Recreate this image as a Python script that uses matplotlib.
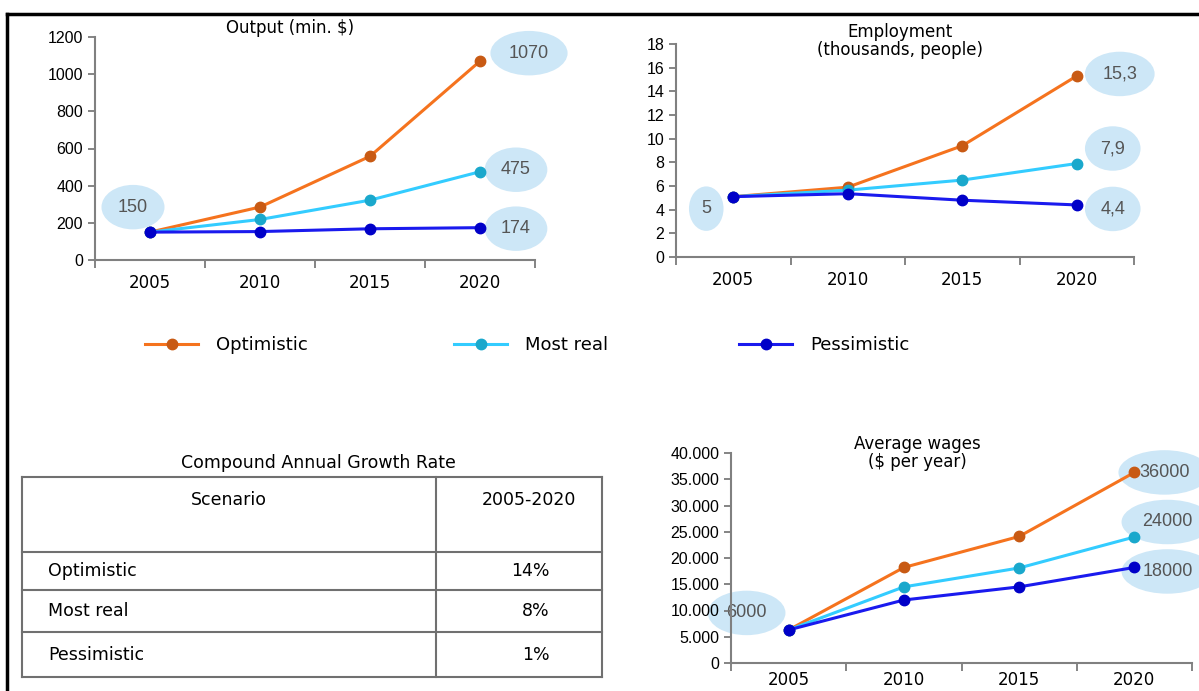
"""
Сценарії: випуск, зайнятість, середня зарплата + таблиця CAGR.
"""
import numpy as np
import matplotlib
matplotlib.use("Agg")
import matplotlib.pyplot as plt
from matplotlib.lines import Line2D
from matplotlib.ticker import FuncFormatter

W, H = 1199, 691

years = ["2005", "2010", "2015", "2020"]
scenarios = ["Optimistic", "Most real", "Pessimistic"]

output_opt = [150, 285, 558, 1070]
output_real = [150, 218, 322, 475]
output_pess = [150, 153, 168, 174]

empl_opt = [5.1, 5.9, 9.4, 15.3]
empl_real = [5.1, 5.65, 6.5, 7.9]
empl_pess = [5.1, 5.35, 4.8, 4.4]

wage_opt = [6300, 18200, 24100, 36300]
wage_real = [6300, 14500, 18100, 24000]
wage_pess = [6300, 12000, 14500, 18200]

cagr_values = ["14%", "8%", "1%"]

LINE_C = ["#f5731e", "#33ccff", "#1a1aee"]
MARK_C = ["#c85a14", "#1aa8cc", "#0000c8"]
BUBBLE = "#cde7f7"

TXT_FONT = ["DejaVu Sans"]
NUM_FONT = ["Liberation Sans"]


def px_box(x0, y0, x1, y1):
    return [x0 / W, 1 - y1 / H, (x1 - x0) / W, (y1 - y0) / H]


def style_axes(ax, ylim, yticks, fmt=None, xpad=10):
    x = np.arange(len(years))
    ax.set_xlim(-0.5, len(years) - 0.5)
    ax.set_ylim(*ylim)
    ax.set_xticks(x)
    ax.set_xticklabels(years, fontsize=12, family=TXT_FONT)
    ax.set_xticks(np.arange(-0.5, len(years), 1.0), minor=True)
    ax.tick_params(axis="x", which="major", length=0, pad=xpad)
    ax.tick_params(axis="x", which="minor", length=6, color="#707070", width=1.2)
    ax.set_yticks(yticks)
    if fmt is not None:
        ax.yaxis.set_major_formatter(FuncFormatter(fmt))
    ax.tick_params(axis="y", length=5, color="#707070", width=1.2, labelsize=11.5)
    for lab in ax.get_yticklabels():
        lab.set_family(NUM_FONT)
    for s in ["top", "right"]:
        ax.spines[s].set_visible(False)
    for s in ["left", "bottom"]:
        ax.spines[s].set_color("#808080")
        ax.spines[s].set_linewidth(1.5)
    ax.patch.set_alpha(0)


def draw_series(ax, series):
    x = np.arange(len(years))
    handles = []
    for vals, lc, mc, name in zip(series, LINE_C, MARK_C, scenarios):
        h, = ax.plot(x, vals, color=lc, lw=2.2, marker="o", ms=7.5,
                     mfc=mc, mec=mc, label=name, zorder=3)
        handles.append(h)
    return handles


def bubble(ax, text, xi, yv, dx, dy):
    ax.annotate(text, (xi, yv), xytext=(dx, dy), textcoords="offset pixels",
                ha="center", va="center", fontsize=13, color="#555555",
                family=NUM_FONT, zorder=1, annotation_clip=False,
                bbox=dict(boxstyle="ellipse,pad=0.4", fc=BUBBLE, ec="none"))


fig = plt.figure(figsize=(W / 100, H / 100), dpi=100)

# ---- рамка
fig.add_artist(Line2D([7 / W, 7 / W], [0, 1 - 14 / H], color="black", lw=2.5))
fig.add_artist(Line2D([7 / W, 1], [1 - 14 / H, 1 - 14 / H], color="black", lw=2.5))

# ---- Output
ax1 = fig.add_axes(px_box(95, 37, 535, 260))
handles = draw_series(ax1, [output_opt, output_real, output_pess])
style_axes(ax1, (0, 1200), np.arange(0, 1201, 200))
fig.text(290 / W, 1 - 28 / H, "Output (min. $)", ha="center", va="center",
         fontsize=12, family=TXT_FONT)
bubble(ax1, "150", 0, output_opt[0], -17, 25)
bubble(ax1, "1070", 3, output_opt[3], 49, 8)
bubble(ax1, "475", 3, output_real[3], 36, 2)
bubble(ax1, "174", 3, output_pess[3], 36, -1)

# ---- Employment
ax2 = fig.add_axes(px_box(676, 44, 1134, 257))
draw_series(ax2, [empl_opt, empl_real, empl_pess])
style_axes(ax2, (0, 18), np.arange(0, 19, 2))
fig.text(900 / W, 1 - 41 / H, "Employment\n(thousands, people)", ha="center",
         va="center", fontsize=12, family=TXT_FONT, linespacing=1.05)
bubble(ax2, "5", 0, empl_pess[0], -27, -12)
bubble(ax2, "15,3", 3, empl_opt[3], 43, 2)
bubble(ax2, "7,9", 3, empl_real[3], 36, 15)
bubble(ax2, "4,4", 3, empl_pess[3], 36, -4)

# ---- Average wages
ax3 = fig.add_axes(px_box(731, 453, 1192, 663))
draw_series(ax3, [wage_opt, wage_real, wage_pess])
style_axes(ax3, (0, 40000), np.arange(0, 40001, 5000),
           fmt=lambda v, p: "0" if v == 0 else f"{int(v):,}".replace(",", "."),
           xpad=6)
fig.text(917 / W, 1 - 453 / H, "Average wages\n($ per year)", ha="center",
         va="center", fontsize=12, family=TXT_FONT, linespacing=1.05)
bubble(ax3, "6000", 0, wage_pess[0], -42, 17)
bubble(ax3, "36000", 3, wage_opt[3], 30, 0)
bubble(ax3, "24000", 3, wage_real[3], 33, 15)
bubble(ax3, "18000", 3, wage_pess[3], 33, -4)

# ---- легенда: по одному запису, щоб стояли як в оригіналі
for h, x0 in zip(handles, [140, 449, 734]):
    fig.legend(handles=[h], loc="center left", bbox_to_anchor=(x0 / W, 1 - 345 / H),
               frameon=False, handlelength=2.9, handletextpad=1.0,
               borderaxespad=0, borderpad=0.3,
               prop=dict(family=TXT_FONT, size=13))

# ---- таблиця CAGR
axt = fig.add_axes(px_box(22, 477, 602, 677))
axt.set_xlim(0, 580)
axt.set_ylim(200, 0)
axt.axis("off")
row_edges = [0, 75, 113, 155, 200]
col_div = 414
ec = "#707070"
for yy in row_edges:
    axt.plot([0, 580], [yy, yy], color=ec, lw=1.5, clip_on=False)
axt.plot([0, 0], [0, 200], color=ec, lw=1.5, clip_on=False)
axt.plot([580, 580], [0, 200], color=ec, lw=1.5, clip_on=False)
axt.plot([col_div, col_div], [0, 200], color=ec, lw=1.5, clip_on=False)
axt.text(col_div / 2, 23, "Scenario", ha="center", va="center", fontsize=12.5, family=TXT_FONT)
axt.text((col_div + 580) / 2 + 10, 23, "2005-2020", ha="center", va="center",
         fontsize=12.5, family=TXT_FONT)
for i, (name, val) in enumerate(zip(scenarios, cagr_values)):
    yc = (row_edges[i + 1] + row_edges[i + 2]) / 2
    axt.text(26, yc, name, ha="left", va="center", fontsize=12.5, family=TXT_FONT)
    axt.text(528, yc, val, ha="right", va="center", fontsize=12.5, family=TXT_FONT)
fig.text(318 / W, 1 - 463 / H, "Compound Annual Growth Rate", ha="center",
         va="center", fontsize=12.5, family=TXT_FONT)

fig.savefig("out.png", dpi=100)
